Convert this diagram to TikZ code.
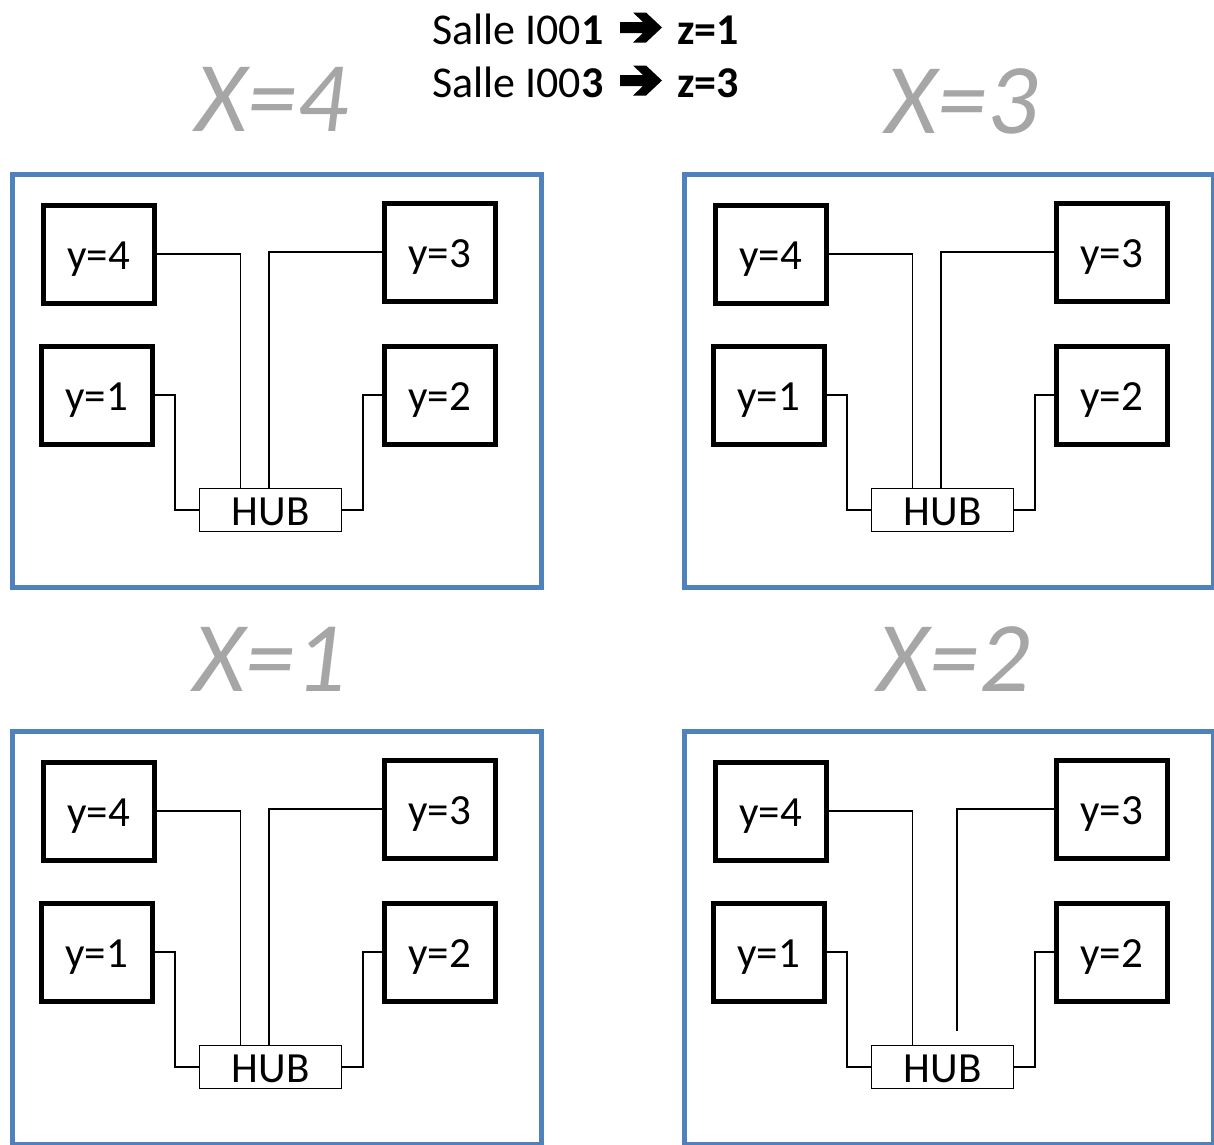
\documentclass[tikz,border=0pt]{standalone}
\usepackage{fontspec}
\setmainfont{Carlito}
\definecolor{panelblue}{HTML}{4F81BD}
\definecolor{labelgray}{HTML}{A6A6A6}
\tikzset{
  ybox/.style={draw, line width=5pt, minimum width=111pt, minimum height=98pt,
    inner sep=0pt, outer sep=0pt, text height=30pt, text depth=0pt,
    font=\fontsize{43}{50}\selectfont},
  hubbox/.style={draw, line width=1.5pt, minimum width=142pt, minimum height=43pt,
    inner sep=0pt, outer sep=0pt, fill=white, text height=30pt, text depth=0pt,
    font=\fontsize{43}{50}\selectfont},
  wire/.style={line width=1.4pt},
  panelframe/.style={draw=panelblue, line width=5pt, minimum width=529pt,
    minimum height=413pt, inner sep=0pt, outer sep=0pt, anchor=north west},
  xlabel/.style={text=labelgray, font=\fontsize{100}{110}\selectfont\itshape,
    anchor=base, inner sep=0pt},
  titletext/.style={anchor=base west, inner sep=0pt, font=\fontsize{44}{50}\selectfont},
  heavyarrow/.style={fill=black},
}
\newcommand\arrowshape{(0,-5.5) -- (23,-5.5) -- (13,-15) -- (26,-15) -- (42,0) -- (26,15) -- (13,15) -- (23,5.5) -- (0,5.5) -- cycle}
\newcommand\roompanel[3]{%
  \begin{scope}[shift={(#2,#3)}, name prefix=#1-]
    \node[panelframe] (frame) at (12,174.5) {};
    \node[ybox] (y4) at (98.5,254) {y=4};
    \node[ybox] (y3) at (439.5,252) {y=3};
    \node[ybox] (y1) at (96.5,395) {y=1};
    \node[ybox] (y2) at (439.5,395) {y=2};
    \node[hubbox] (hub) at (270.5,510) {HUB};
    \draw[wire] (y4.east) -| ([xshift=-30pt]hub.north);
    \draw[wire] (y1.east) -- ++(23,0) |- (hub.west);
    \draw[wire] (y2.west) -- ++(-21,0) |- (hub.east);
  \end{scope}}
\begin{document}
\begin{tikzpicture}[x=1pt,y=-1pt]
  \useasboundingbox (0,0) rectangle (1214,1144);
  \clip (0,0) rectangle (1214,1144);
  \fill[white] (0,0) rectangle (1214,1144);
  % title
  \node[titletext] (s1) at (432,44) {Salle I00\textbf{1}};
  \fill[heavyarrow, shift={(620,27.5)}] \arrowshape;
  \node[titletext] (z1) at (677,44) {\textbf{z=1}};
  \node[titletext] (s3) at (432,97) {Salle I00\textbf{3}};
  \fill[heavyarrow, shift={(620,80.5)}] \arrowshape;
  \node[titletext] (z3) at (677,97) {\textbf{z=3}};
  % X labels
  \node[xlabel] (x4) at (272,131) {X=4};
  \node[xlabel] (x3) at (962,133) {X=3};
  \node[xlabel] (x1) at (270,691) {X=1};
  \node[xlabel] (x2) at (954,691) {X=2};
  % panels
  \roompanel{tl}{0}{0}
  \roompanel{tr}{672}{0}
  \roompanel{bl}{0}{557}
  \roompanel{br}{672}{557}
  % y=3 connectors
  \draw[wire] (tl-y3.west) -| ([xshift=-1.5pt]tl-hub.north);
  \draw[wire] (tr-y3.west) -| ([xshift=-1.5pt]tr-hub.north);
  \draw[wire] (bl-y3.west) -| ([xshift=-1.5pt]bl-hub.north);
  \coordinate (br-y3end) at (957,1031);
  \draw[wire] (br-y3.west) -| (br-y3end);
\end{tikzpicture}
\end{document}
